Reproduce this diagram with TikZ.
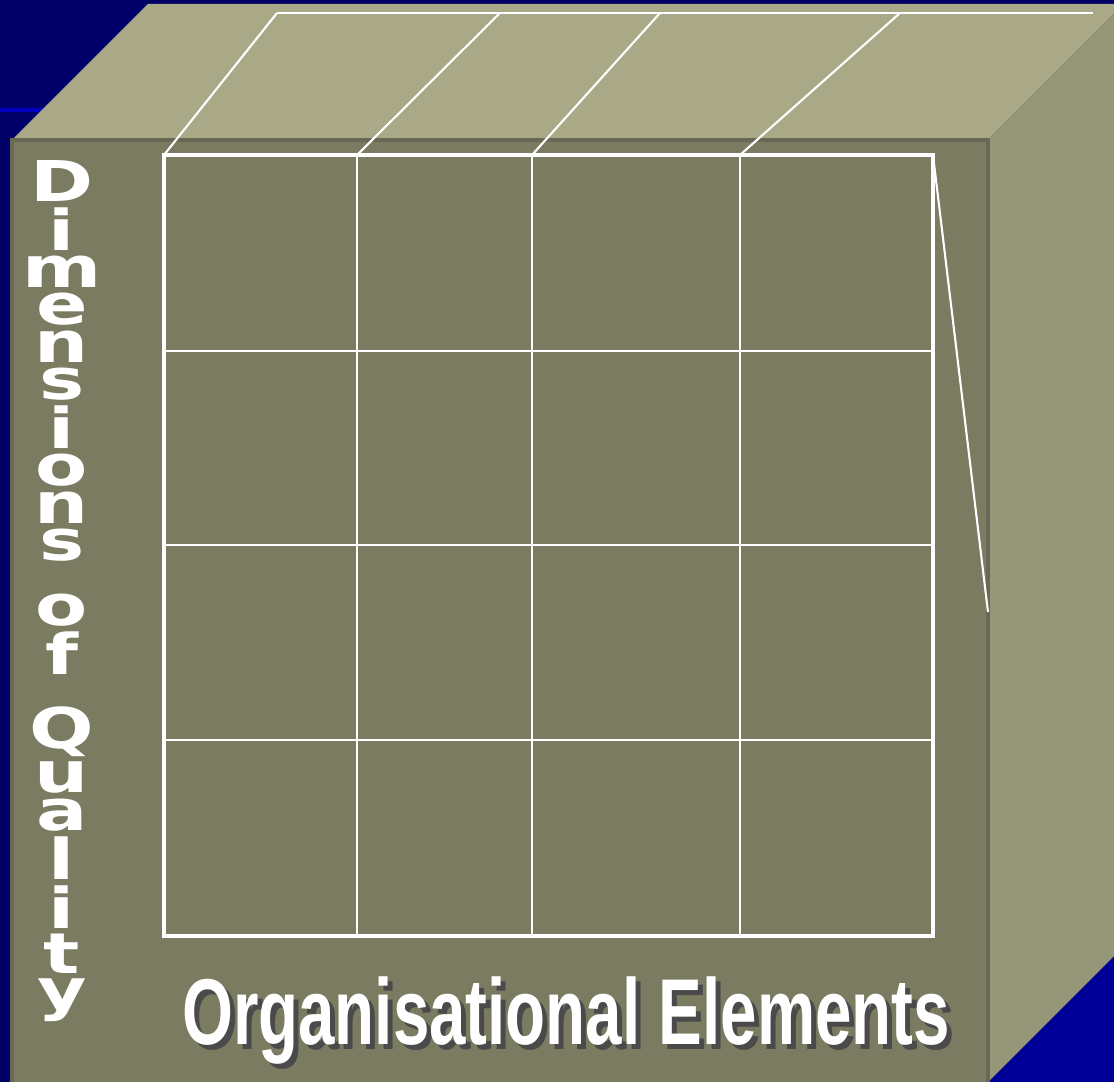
\documentclass[tikz,border=0pt]{standalone}
\usepackage{fontspec}
\setmainfont{Liberation Sans}
\newfontfamily\stackfont{DejaVu Sans}

\definecolor{navy}{RGB}{0,0,102}
\definecolor{brightblue}{RGB}{0,0,150}
\definecolor{stripeblue}{RGB}{0,0,190}
\definecolor{topface}{RGB}{169,169,135}
\definecolor{frontface}{RGB}{123,123,98}
\definecolor{frontedge}{RGB}{104,104,84}
\definecolor{sideface}{RGB}{150,150,120}
\definecolor{shadowgray}{RGB}{74,74,74}

% line breaks inside the stacked label
\newcommand\nl{\\[-1.4pt]}
\newcommand\gapnl{\\[6.1pt]}

\tikzset{
  gridthin/.style={white, line width=0.6pt},
  gridthick/.style={white, line width=1.2pt},
  stackletter/.style={text=white, inner sep=0pt,
    font=\stackfont\bfseries\fontsize{16}{18}\selectfont},
  titletext/.style={inner sep=0pt, anchor=base,
    font=\bfseries\fontsize{26.6}{30}\selectfont}
}

\begin{document}
\begin{tikzpicture}[x=0.01cm,y=-0.01cm]
    \useasboundingbox (0,0) rectangle (1114,1082);
    \fill[navy] (0,0) rectangle (1114,1082);
    \fill[brightblue] (950,880) rectangle (1114,1082);
    \draw[stripeblue, line width=1.1pt] (0,110) -- (60,110);
    % the cube
    \fill[topface] (12,140) -- (148,4) -- (1124,4) -- (988,140) -- cycle;
    \fill[sideface] (988,140) -- (1124,4) -- (1124,946) -- (988,1082) -- cycle;
    \filldraw[fill=frontface, draw=frontedge, line width=1pt] (12,1090) -- (12,140) -- (988,140) -- (988,1090);
    % grid corners
    \foreach \x [count=\i] in {164,357,532,740,933}{
      \coordinate (t\i) at (\x,155);
      \coordinate (b\i) at (\x,936);
    }
    \foreach \y [count=\j] in {155,351,545,740,936}{
      \coordinate (l\j) at (164,\y);
      \coordinate (r\j) at (933,\y);
    }
    \foreach \x [count=\i] in {277,500,660,900}{
      \coordinate (k\i) at (\x,13);
    }
    \coordinate (kend) at (1093,13);
    \coordinate (rend) at (988,612);
    \foreach \i in {2,3,4}{
      \draw[gridthin] (t\i) -- (b\i);
      \draw[gridthin] (l\i) -- (r\i);
    }
    \draw[gridthick] (t1) rectangle (b5);
    \foreach \i in {1,...,4}{
      \draw[gridthin] (t\i) -- (k\i);
    }
    \draw[gridthin] (k1) -- (kend);
    \draw[gridthin] (t5) -- (rend);
    % vertical label
    \node[stackletter, anchor=north] (dimlabel) at (62,160) {\scalebox{1.35}[1]{\shortstack{D\nl i\nl m\nl e\nl n\nl s\nl i\nl o\nl n\nl s\gapnl o\nl f\gapnl Q\nl u\nl a\nl l\nl i\nl t\nl y}}};
    % bottom label
    \node[titletext, text=shadowgray] (titleshadow) at (571,1050) {\scalebox{0.7}[1]{Organisational Elements}};
    \node[titletext, text=white] (title) at (566,1045) {\scalebox{0.7}[1]{Organisational Elements}};
\end{tikzpicture}
\end{document}
